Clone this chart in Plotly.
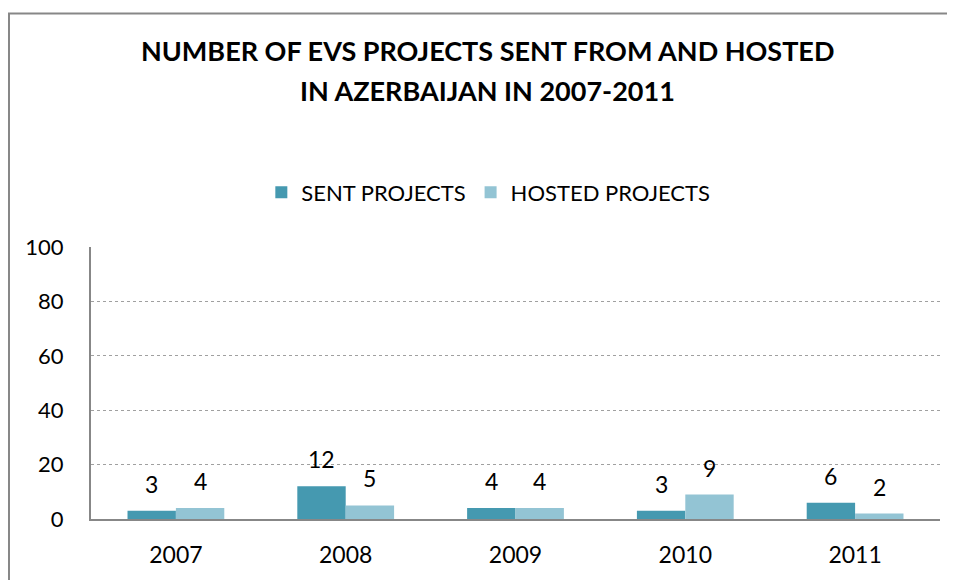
import plotly.graph_objects as go

years = ["2007", "2008", "2009", "2010", "2011"]
sent = [3, 12, 4, 3, 6]
hosted = [4, 5, 4, 9, 2]
y_ticks = [0, 20, 40, 60, 80, 100]
title_lines = ["NUMBER OF EVS PROJECTS SENT FROM AND HOSTED", "IN AZERBAIJAN IN 2007-2011"]

SENT_COLOR = "#4599B0"
HOSTED_COLOR = "#93C4D4"
FONT = "Lato"

fig = go.Figure()
fig.add_trace(go.Bar(name="SENT PROJECTS", x=years, y=sent, marker_color=SENT_COLOR,
                     marker_line_width=0))
fig.add_trace(go.Bar(name="HOSTED PROJECTS", x=years, y=hosted, marker_color=HOSTED_COLOR,
                     marker_line_width=0))

bargap = 0.43
half = (1 - bargap) / 4
for i, (s, h) in enumerate(zip(sent, hosted)):
    fig.add_annotation(x=i - half, y=s, text=str(s), showarrow=False, yanchor="bottom",
                       yshift=11, font=dict(family=FONT, size=23, color="black"))
    fig.add_annotation(x=i + half, y=h, text=str(h), showarrow=False, yanchor="bottom",
                       yshift=11, font=dict(family=FONT, size=23, color="black"))

# title lines
for k, line in enumerate(title_lines):
    fig.add_annotation(xref="paper", yref="paper", x=0.467, y=1 + (239 - 41 - 40 * k) / 274,
                       text="<b>" + line + "</b>", showarrow=False, xanchor="center",
                       yanchor="middle", font=dict(family=FONT, size=27, color="black"))

# outer frame
fig.add_shape(type="path", xref="paper", yref="paper",
              path="M -0.0966,-0.5 L -0.0966,1.858 L 1.2,1.858",
              line=dict(color="#878787", width=2))

fig.update_layout(
    width=947, height=572,
    margin=dict(l=83, r=15, t=239, b=59),
    paper_bgcolor="white", plot_bgcolor="white",
    barmode="group", bargap=bargap, bargroupgap=0,
    legend=dict(orientation="h", x=0.468, xanchor="center", y=1 + (239 - 184) / 274,
                yanchor="middle", font=dict(family=FONT, size=22, color="black"),
                itemwidth=30, traceorder="normal"),
    font=dict(family=FONT, size=23, color="black"),
    xaxis=dict(showline=True, linecolor="#878787", linewidth=2, ticks="",
               tickfont=dict(size=23), showgrid=False, ticklabelstandoff=14),
    yaxis=dict(range=[0, 100], tickvals=y_ticks, showline=True, linecolor="#878787",
               linewidth=2, showgrid=True, gridcolor="#A0A0A0", griddash="dot",
               gridwidth=1, zeroline=False, tickfont=dict(size=22), ticks="",
               ticklabelstandoff=21),
)

fig.write_html("out.html")
